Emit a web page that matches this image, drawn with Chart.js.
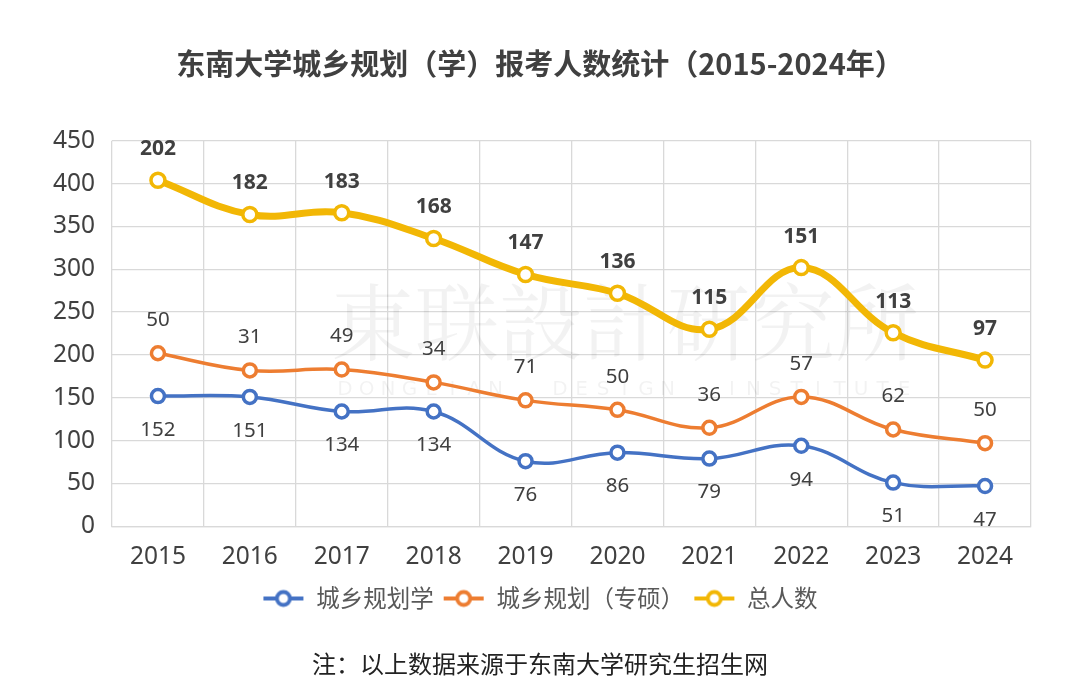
<!DOCTYPE html>
<html>
<head>
<meta charset="utf-8">
<script src="https://cdn.jsdelivr.net/npm/chart.js@4/dist/chart.umd.min.js"></script>
<style>
html,body{margin:0;padding:0;background:#fff;}
#wrap{width:1080px;height:687px;position:relative;}
</style>
</head>
<body>
<div id="wrap"><canvas id="c" width="1080" height="687"></canvas></div>
<script>
const years = ['2015','2016','2017','2018','2019','2020','2021','2022','2023','2024'];
const xueshuo = [152,151,134,134,76,86,79,94,51,47];
const zhuanshuo = [50,31,49,34,71,50,36,57,62,50];
const total = [202,182,183,168,147,136,115,151,113,97];
const yTicks = [0,50,100,150,200,250,300,350,400,450];
const seriesNames = ['城乡规划学','城乡规划（专硕）','总人数'];
const colors = ['#4472C4','#ED7D31','#F2B705'];

const FONT = "'Noto Sans','Noto Sans CJK SC',sans-serif";
const CJK = "'Noto Sans CJK SC','Noto Sans',sans-serif";

function legendIcon(color){
  const cv = document.createElement('canvas');
  cv.width = 42; cv.height = 20;
  const g = cv.getContext('2d');
  g.strokeStyle = color; g.lineWidth = 3.8;
  g.beginPath(); g.moveTo(1,10); g.lineTo(41,10); g.stroke();
  g.fillStyle = '#fff';
  g.beginPath(); g.arc(21,10,6.5,0,Math.PI*2); g.fill(); g.stroke();
  return cv;
}
const icons = colors.map(legendIcon);

const labelPlugin = {
  id:'valueLabels',
  afterDatasetsDraw(chart){
    const ctx = chart.ctx;
    ctx.save();
    ctx.textAlign = 'center';
    ctx.textBaseline = 'middle';
    chart.data.datasets.forEach((ds,i)=>{
      const meta = chart.getDatasetMeta(i);
      meta.data.forEach((pt,j)=>{
        let dy, font;
        if(i===0){ dy = 34; font = "20.5px "+FONT; }
        else if(i===1){ dy = -33; font = "20.5px "+FONT; }
        else { dy = -31; font = "bold 21px "+FONT; }
        ctx.font = font;
        ctx.fillStyle = '#404040';
        ctx.fillText(String(ds.data[j]), pt.x, pt.y+dy);
      });
    });
    ctx.restore();
  }
};

const watermarkPlugin = {
  id:'watermark',
  beforeDatasetsDraw(chart){
    const ctx = chart.ctx;
    ctx.save();
    ctx.fillStyle = 'rgba(0,0,0,0.05)';
    ctx.textAlign = 'center';
    ctx.textBaseline = 'middle';
    ctx.font = "84px 'Noto Serif CJK SC','Noto Sans CJK TC',serif";
    ctx.fillText('東联設計研究所', 625, 322);
    ctx.font = "20px 'DejaVu Sans',sans-serif";
    const s = 'DONGLIAN  DESIGN  INSTITUTE';
    let x = 345;
    for(const ch of s){ ctx.fillText(ch, x, 390); x += 21.5; }
    ctx.restore();
  }
};

new Chart(document.getElementById('c'), {
  type:'line',
  data:{
    labels: years,
    datasets: [xueshuo, zhuanshuo, total].map((d,i)=>({
      label: seriesNames[i],
      data: d,
      borderColor: colors[i],
      backgroundColor: '#ffffff',
      borderWidth: i===2 ? 7 : 3.5,
      pointRadius: i===2 ? 7 : 6.5,
      pointBorderWidth: 3.5,
      pointBackgroundColor: '#ffffff',
      pointBorderColor: colors[i],
      tension: 0.4,
      fill: false
    }))
  },
  options:{
    responsive:false,
    animation:false,
    layout:{padding:{left:49,right:49,top:0,bottom:9}},
    scales:{
      x:{
        offset:true,
        grid:{offset:true,color:'#d9d9d9',lineWidth:1.3,drawTicks:false},
        border:{color:'#d9d9d9',width:1.3},
        ticks:{color:'#404040',font:{family:FONT,size:24.5},padding:16},
        afterFit(s){ s.height -= 10; }
      },
      y:{
        stacked:true,
        min:0,max:450,
        afterBuildTicks(s){ s.ticks = yTicks.map(v=>({value:v})); },
        afterFit(s){ s.width = 63; },
        grid:{color:'#d9d9d9',lineWidth:1.3,drawTicks:false},
        border:{display:false},
        ticks:{color:'#404040',font:{family:FONT,size:24.5},padding:17}
      }
    },
    plugins:{
      title:{
        display:true,
        text:'东南大学城乡规划（学）报考人数统计（2015-2024年）',
        color:'#404040',
        font:{family:CJK,size:29,weight:'bold'},
        padding:{top:47,bottom:59}
      },
      subtitle:{
        display:true,
        position:'bottom',
        text:'注：以上数据来源于东南大学研究生招生网',
        color:'#222',
        font:{family:CJK,size:24},
        padding:{top:29,bottom:0}
      },
      legend:{
        position:'bottom',
        labels:{
          usePointStyle:true,
          pointStyleWidth:42,
          color:'#595959',
          font:{family:CJK,size:23.5},
          padding:9,
          generateLabels(chart){
            return chart.data.datasets.map((ds,i)=>({
              text: ds.label,
              fillStyle:'#fff',
              strokeStyle: colors[i],
              lineWidth:0,
              pointStyle: icons[i],
              datasetIndex:i,
              hidden:false,
              fontColor:'#595959'
            }));
          }
        }
      },
      tooltip:{enabled:false}
    }
  },
  plugins:[watermarkPlugin,labelPlugin]
});
</script>
</body>
</html>
